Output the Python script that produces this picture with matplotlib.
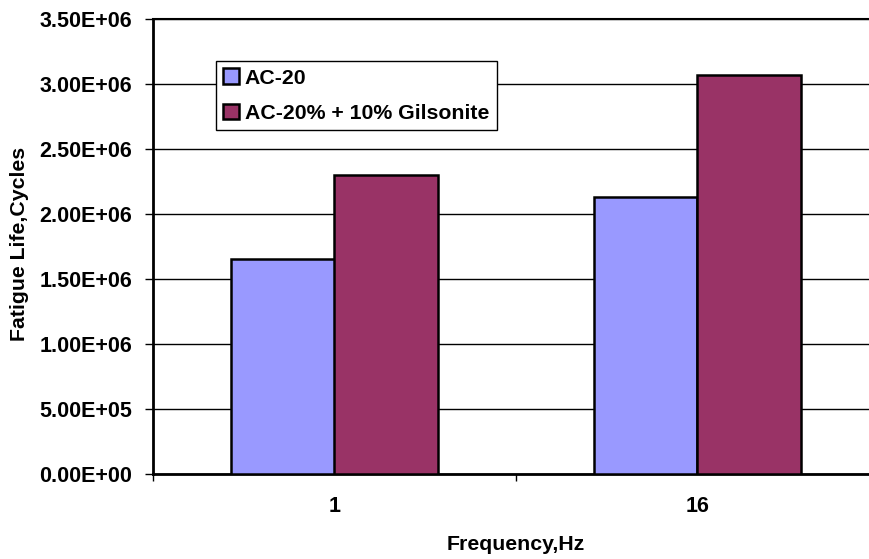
import matplotlib
matplotlib.use('Agg')
import matplotlib.pyplot as plt
import numpy as np

# --- DATA ---
categories = ['1', '16']
series_names = ['AC-20', 'AC-20% + 10% Gilsonite']
ac20 = [1.656e6, 2.128e6]
ac20_gilsonite = [2.300e6, 3.067e6]
y_ticks = np.arange(0, 3.5e6 + 1, 5e5)
# ------------

COLORS = ['#9999FF', '#993366']
W, H = 869, 559

plt.rcParams['font.family'] = ['Liberation Sans', 'DejaVu Sans']
plt.rcParams['font.weight'] = 'bold'

fig = plt.figure(figsize=(W / 100, H / 100), dpi=100)
# plot area runs a bit past the right edge of the figure
ax = fig.add_axes([153 / W, 85 / H, 726 / W, 455 / H])

x = np.arange(len(categories)) + 0.5
bw = 1 / 3.5
ax.bar(x - bw / 2, ac20, bw, color=COLORS[0], edgecolor='black', linewidth=1.8,
       label=series_names[0], zorder=3)
ax.bar(x + bw / 2, ac20_gilsonite, bw, color=COLORS[1], edgecolor='black', linewidth=1.8,
       label=series_names[1], zorder=3)

ax.set_xlim(0, len(categories))
ax.set_ylim(0, 3.5e6)

# y axis
ax.set_yticks(y_ticks)
ax.set_yticklabels([f'{v:.2E}' for v in y_ticks])
ax.yaxis.grid(True, color='black', linewidth=1.0, zorder=0)
ax.tick_params(axis='y', direction='out', length=6, width=1, labelsize=15.5, pad=9)

# x axis: ticks between categories, labels at the centres
ax.set_xticks(np.arange(len(categories) + 1))
ax.set_xticklabels([])
ax.set_xticks(x, minor=True)
ax.set_xticklabels(categories, minor=True)
ax.tick_params(axis='x', which='major', direction='out', length=5, width=1)
ax.tick_params(axis='x', which='minor', length=0, labelsize=15.5, pad=16)

for s in ['left', 'bottom']:
    ax.spines[s].set_linewidth(2)
ax.spines['top'].set_linewidth(1.5)
ax.spines['right'].set_visible(False)

for lbl in ax.get_yticklabels() + ax.get_xticklabels(minor=True):
    lbl.set_fontweight('bold')

fig.text(516 / W, 1 - 545 / H, 'Frequency,Hz', ha='center', va='center',
         fontsize=15.3, fontweight='bold')
fig.text(20 / W, 1 - 244 / H, 'Fatigue Life,Cycles', ha='center', va='center',
         rotation=90, fontsize=15.3, fontweight='bold')

leg = ax.legend(loc='upper left', bbox_to_anchor=(216 / W, 1 - 61 / H),
                bbox_transform=fig.transFigure, borderaxespad=0, fancybox=False,
                edgecolor='black', framealpha=1, fontsize=15.3,
                handlelength=0.75, handleheight=0.75, handletextpad=0.25,
                borderpad=0.35, labelspacing=0.75)
leg.get_frame().set_linewidth(1.0)
for t in leg.get_texts():
    t.set_fontweight('bold')
leg.set_zorder(5)

fig.savefig('out.png', dpi=100)
